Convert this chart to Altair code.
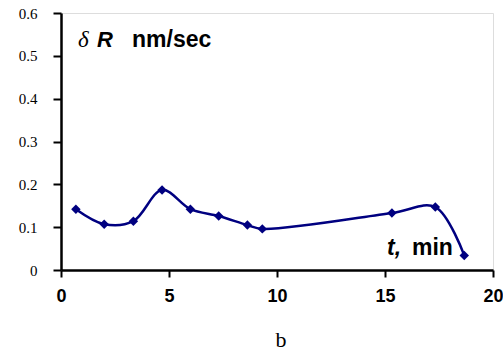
import altair as alt
import pandas as pd

t_min = [0.69, 2.0, 3.35, 4.68, 5.99, 7.30, 8.63, 9.32, 15.32, 17.33, 18.67]
rate = [0.142, 0.107, 0.114, 0.187, 0.142, 0.126, 0.105, 0.096, 0.133, 0.147, 0.034]

df = pd.DataFrame({"t": t_min, "r": rate})

SERIF = "Liberation Serif"
SANS = "Liberation Sans"
NAVY = "#000080"

x = alt.X("t:Q", scale=alt.Scale(domain=[0, 20], nice=False, zero=False),
          axis=alt.Axis(values=[0, 5, 10, 15, 20], title=None, grid=False,
                        labelFont=SANS, labelFontWeight="bold", labelFontSize=18,
                        labelColor="black", labelPadding=10, tickSize=7, tickWidth=2,
                        tickColor="black", domainColor="black", domainWidth=2.5,
                        labelFlush=False))
y = alt.Y("r:Q", scale=alt.Scale(domain=[0, 0.6], nice=False),
          axis=alt.Axis(values=[0, 0.1, 0.2, 0.3, 0.4, 0.5, 0.6], title=None, grid=False,
                        labelExpr="datum.value == 0 ? '0' : format(datum.value, '.1f')",
                        labelFont=SERIF, labelFontSize=15, labelColor="black",
                        labelPadding=16, tickSize=8, tickWidth=2, tickColor="black",
                        domainColor="black", domainWidth=2.5, labelFlush=False))

line = alt.Chart(df).mark_line(color=NAVY, strokeWidth=2.5, interpolate="catmull-rom").encode(x=x, y=y)
pts = alt.Chart(df).mark_point(shape="diamond", filled=True, color=NAVY, size=90, opacity=1).encode(x=x, y=y)

def txt(s, px, py, font, size, weight="normal", style="normal", align="left"):
    return alt.Chart(pd.DataFrame({"s": [s]})).mark_text(
        font=font, fontSize=size, fontWeight=weight, fontStyle=style, align=align,
        baseline="alphabetic", color="black"
    ).encode(x=alt.value(px), y=alt.value(py), text="s:N")

labels = [
    txt("δ", 17, 34, SERIF, 23, style="italic"),
    txt("R", 36, 34, SANS, 22, weight="bold", style="italic"),
    txt("nm/sec", 71, 34, SANS, 23, weight="bold"),
    txt("t,", 326, 242, SANS, 23, weight="bold", style="italic"),
    txt("min", 351, 242, SANS, 23, weight="bold"),
    txt("b", 220, 334, SERIF, 22, align="center"),
]

chart = alt.layer(line, pts, *labels).properties(
    width=432, height=257,
    autosize=alt.AutoSizeParams(type="none"),
    padding={"left": 61, "top": 13, "right": 10, "bottom": 81},
).configure_view(stroke=None).configure(background="white")

chart.save("out.html", embed_options={"renderer": "svg", "actions": False})
